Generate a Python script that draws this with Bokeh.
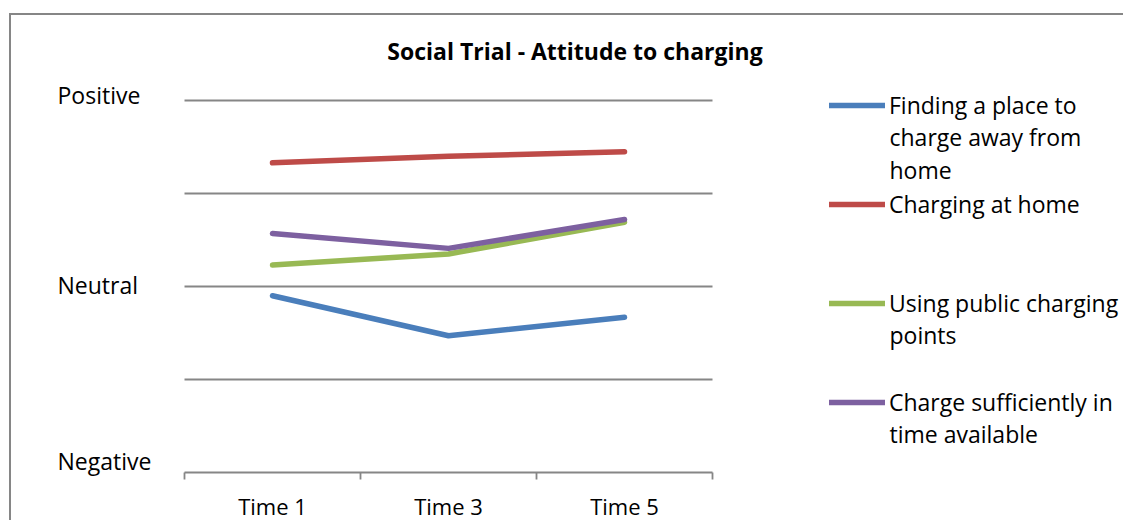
from bokeh.plotting import figure
from bokeh.models import FixedTicker, Label, Legend, LegendItem, Range1d
from bokeh.embed import file_html
from bokeh.resources import INLINE

# ---- data ----
categories = ["Time 1", "Time 3", "Time 5"]
finding_place = [2.90, 2.47, 2.67]
charging_home = [4.33, 4.40, 4.45]
public_points = [3.23, 3.35, 3.69]
charge_sufficient = [3.57, 3.41, 3.72]
y_tick_values = [1, 3, 5]
y_tick_labels = ["Negative", "Neutral", "Positive"]
series_lines = [["Finding a place to", "charge away from", "home"],
                ["Charging at home"],
                ["Using public charging", "points"],
                ["Charge sufficiently in", "time available"]]
series_colors = ["#4A7EBB", "#BE4B48", "#98B954", "#7D60A0"]
title_text = "Social Trial - Attitude to charging"

FONT = "Open Sans"
GRAY = "#868686"

# ---- layout (pixels, page coordinates) ----
CANVAS_L, CANVAS_T = 12, 15
FRAME_W, FRAME_H = 1112, 505
PLOT_L, PLOT_B = 185, 472      # where category 0 boundary / value 1 sit
PX_X, PX_Y = 176.0, 93.0
TXT_FIX = -9                   # label baseline correction

x0 = -(PLOT_L - CANVAS_L) / PX_X
x1 = x0 + FRAME_W / PX_X
y1 = 1 + (PLOT_B - CANVAS_T) / PX_Y
y0 = y1 - FRAME_H / PX_Y


def dx(px):   # page x -> data x
    return (px - PLOT_L) / PX_X


def dy(py):   # page y -> data y
    return 1 + (PLOT_B - py) / PX_Y


x_pos = [i + 0.5 for i in range(len(categories))]

p = figure(frame_width=FRAME_W, frame_height=FRAME_H, output_backend="svg",
           toolbar_location=None,
           x_range=Range1d(x0, x1), y_range=Range1d(y0, y1),
           min_border_left=0, min_border_right=0, min_border_top=0,
           min_border_bottom=0)
p.styles = {"border-left": f"2px solid {GRAY}", "border-top": f"2px solid {GRAY}",
            "margin-left": "9px", "margin-top": "13px"}
p.outline_line_color = None
p.background_fill_color = "white"

# horizontal grid lines, only across the category span
p.xgrid.visible = False
p.ygrid.ticker = FixedTicker(ticks=[2, 3, 4, 5])
p.ygrid.cross_bounds = (0, len(categories))
p.ygrid.grid_line_color = GRAY
p.ygrid.grid_line_width = 1.8

p.yaxis.visible = False

xa = p.xaxis[0]
xa.fixed_location = 1
xa.bounds = (0, len(categories))
xa.ticker = FixedTicker(ticks=x_pos, minor_ticks=list(range(len(categories) + 1)))
xa.major_label_overrides = {x: c for x, c in zip(x_pos, categories)}
xa.major_tick_out = 0
xa.major_tick_in = 0
xa.minor_tick_out = 7
xa.minor_tick_in = 0
xa.minor_tick_line_color = GRAY
xa.minor_tick_line_width = 1.8
xa.axis_line_color = GRAY
xa.axis_line_width = 1.8
xa.major_label_text_font = FONT
xa.major_label_text_font_size = "22px"
xa.major_label_text_color = "black"
xa.major_label_standoff = 11

series = [finding_place, charging_home, public_points, charge_sufficient]
items = []
for lines, vals, col in zip(series_lines, series, series_colors):
    r = p.line(x_pos, vals, line_color=col, line_width=5.5, line_cap="round", line_join="round")
    items.append(LegendItem(label=lines[0], renderers=[r]))

# y category labels (baseline page y: 469, 293, 103)
for v, t, base in zip(y_tick_values, y_tick_labels, [469, 293, 103]):
    p.add_layout(Label(x=dx(58), y=dy(base + TXT_FIX), text=t,
                       text_font=FONT, text_font_size="23px", text_color="black",
                       text_baseline="alphabetic", text_align="left"))

# title
p.add_layout(Label(x=dx(575.5), y=dy(59.3 + TXT_FIX), text=title_text,
                   text_font=FONT, text_font_style="bold", text_font_size="23px",
                   text_color="black", text_baseline="alphabetic", text_align="center"))

# legend
ITEM_H, ITEM_GAP = 32, 67
FIRST_CENTER = 105
n = len(items)
legend_h = n * ITEM_H + (n - 1) * ITEM_GAP
legend = Legend(items=items,
                location=(830 - CANVAS_L, (CANVAS_T + FRAME_H) - (FIRST_CENTER - ITEM_H / 2) - legend_h),
                orientation="vertical",
                label_text_font=FONT, label_text_font_size="23px", label_text_color="black",
                label_height=ITEM_H, glyph_width=56, glyph_height=ITEM_H,
                label_standoff=4, padding=0, margin=0, spacing=ITEM_GAP,
                border_line_color=None, background_fill_alpha=0)
p.add_layout(legend, "center")

# wrapped continuation lines of the legend entries
LINE_PITCH = 32.5
for i, lines in enumerate(series_lines):
    base = FIRST_CENTER + i * (ITEM_H + ITEM_GAP) + 8
    for k, t in enumerate(lines[1:], start=1):
        p.add_layout(Label(x=dx(890), y=dy(base + k * LINE_PITCH + TXT_FIX), text=t,
                           text_font=FONT, text_font_size="23px", text_color="black",
                           text_baseline="alphabetic", text_align="left"))

open("out.html", "w").write(file_html(p, INLINE))
